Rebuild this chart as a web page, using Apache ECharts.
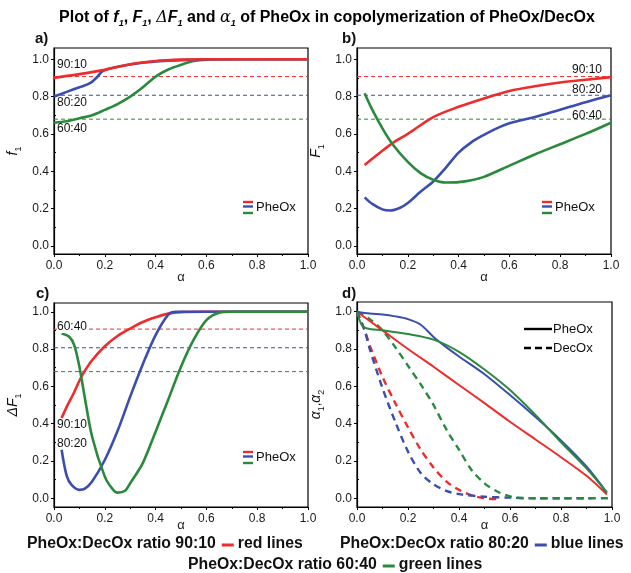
<!DOCTYPE html>
<html><head><meta charset="utf-8">
<script src="https://cdn.jsdelivr.net/npm/echarts@6/dist/echarts.min.js"></script>
<style>html,body{margin:0;padding:0;background:#fff}#c{width:631px;height:573px}</style>
</head><body><div id="c"></div>
<script>
// ---------- data ----------
const xTicks = [0, 0.2, 0.4, 0.6, 0.8, 1.0];
const yTicks = [0, 0.2, 0.4, 0.6, 0.8, 1.0];
const yMinorTicks = [0.1, 0.3, 0.5, 0.7, 0.9];
const refLevels = [0.907, 0.807, 0.679]; // 90:10, 80:20, 60:40 feed fractions
const ratioNames = ['90:10', '80:20', '60:40'];

// panel a: f1 vs alpha
const aRedX = [0, 0.1, 0.2, 0.3, 0.4, 0.5, 0.6, 0.7, 0.8, 0.9, 1.0];
const aRedY = [0.90, 0.92, 0.943, 0.973, 0.99, 0.998, 1.0, 1.0, 1.0, 1.0, 1.0];
const aBlueX = [0, 0.05, 0.1, 0.14, 0.17, 0.19, 0.22, 0.3, 0.4, 0.5, 0.6, 0.7, 0.8, 0.9, 1.0];
const aBlueY = [0.80, 0.825, 0.85, 0.87, 0.905, 0.935, 0.95, 0.972, 0.988, 0.995, 1.0, 1.0, 1.0, 1.0, 1.0];
const aGreenX = [0, 0.05, 0.1, 0.15, 0.2, 0.25, 0.3, 0.35, 0.4, 0.45, 0.5, 0.55, 0.6, 0.7, 0.8, 0.9, 1.0];
const aGreenY = [0.66, 0.668, 0.684, 0.70, 0.729, 0.76, 0.80, 0.85, 0.907, 0.945, 0.97, 0.99, 0.998, 1.0, 1.0, 1.0, 1.0];

// panel b: F1 vs alpha
const bRedX = [0.03, 0.1, 0.15, 0.2, 0.3, 0.4, 0.5, 0.6, 0.7, 0.8, 0.9, 1.0];
const bRedY = [0.434, 0.51, 0.56, 0.60, 0.69, 0.745, 0.79, 0.83, 0.855, 0.875, 0.89, 0.904];
const bBlueX = [0.03, 0.06, 0.1, 0.13, 0.17, 0.2, 0.25, 0.3, 0.35, 0.4, 0.45, 0.5, 0.55, 0.6, 0.65, 0.7, 0.8, 0.9, 1.0];
const bBlueY = [0.26, 0.225, 0.196, 0.19, 0.205, 0.23, 0.29, 0.345, 0.42, 0.50, 0.555, 0.595, 0.63, 0.657, 0.675, 0.69, 0.73, 0.77, 0.807];
const bGreenX = [0.03, 0.06, 0.1, 0.14, 0.2, 0.25, 0.3, 0.35, 0.4, 0.45, 0.5, 0.6, 0.7, 0.8, 0.9, 1.0];
const bGreenY = [0.818, 0.73, 0.63, 0.545, 0.45, 0.39, 0.355, 0.34, 0.342, 0.352, 0.37, 0.43, 0.49, 0.545, 0.60, 0.66];

// panel c: dF1 vs alpha
const cRedX = [0.03, 0.05, 0.08, 0.1, 0.12, 0.15, 0.2, 0.25, 0.3, 0.35, 0.4, 0.45, 0.5, 0.6, 0.7, 0.8, 0.9, 1.0];
const cRedY = [0.43, 0.49, 0.57, 0.63, 0.68, 0.74, 0.815, 0.87, 0.91, 0.945, 0.97, 0.99, 0.998, 1.0, 1.0, 1.0, 1.0, 1.0];
const cBlueX = [0.03, 0.05, 0.07, 0.1, 0.12, 0.15, 0.2, 0.25, 0.3, 0.35, 0.4, 0.45, 0.48, 0.52, 0.6, 0.7, 0.8, 0.9, 1.0];
const cBlueY = [0.26, 0.12, 0.07, 0.045, 0.05, 0.09, 0.205, 0.36, 0.545, 0.72, 0.875, 0.985, 1.0, 1.0, 1.0, 1.0, 1.0, 1.0, 1.0];
const cGreenX = [0.03, 0.06, 0.08, 0.1, 0.12, 0.15, 0.2, 0.23, 0.25, 0.28, 0.3, 0.35, 0.4, 0.45, 0.5, 0.55, 0.6, 0.65, 0.7, 0.8, 0.9, 1.0];
const cGreenY = [0.884, 0.866, 0.82, 0.705, 0.55, 0.33, 0.116, 0.05, 0.03, 0.04, 0.08, 0.19, 0.357, 0.53, 0.705, 0.85, 0.955, 0.995, 1.0, 1.0, 1.0, 1.0];

// panel d: alpha1 (PheOx, solid) and alpha2 (DecOx, dashed) vs alpha
const dRedX = [0, 0.1, 0.2, 0.3, 0.4, 0.5, 0.6, 0.7, 0.8, 0.9, 0.98];
const dRedY = [1.0, 0.9, 0.80, 0.705, 0.607, 0.51, 0.41, 0.315, 0.22, 0.12, 0.02];
const dBlueX = [0, 0.05, 0.1, 0.15, 0.2, 0.25, 0.3, 0.35, 0.4, 0.5, 0.6, 0.7, 0.8, 0.9, 0.98];
const dBlueY = [1.0, 0.99, 0.985, 0.975, 0.96, 0.93, 0.865, 0.81, 0.76, 0.665, 0.553, 0.435, 0.31, 0.17, 0.03];
const dGreenX = [0, 0.01, 0.02, 0.04, 0.1, 0.2, 0.3, 0.4, 0.5, 0.6, 0.7, 0.8, 0.9, 0.98];
const dGreenY = [1.0, 0.955, 0.925, 0.91, 0.90, 0.88, 0.85, 0.785, 0.69, 0.58, 0.446, 0.30, 0.16, 0.03];
const dRedDX = [0, 0.03, 0.05, 0.1, 0.15, 0.2, 0.25, 0.3, 0.35, 0.4, 0.45, 0.5, 0.55];
const dRedDY = [1.0, 0.9, 0.82, 0.65, 0.51, 0.38, 0.26, 0.165, 0.09, 0.045, 0.015, 0.0, -0.005];
const dBlueDX = [0, 0.03, 0.05, 0.1, 0.15, 0.2, 0.25, 0.3, 0.35, 0.4, 0.5, 0.6, 0.7, 0.8, 0.92];
const dBlueDY = [1.0, 0.9, 0.8, 0.59, 0.41, 0.25, 0.135, 0.075, 0.04, 0.022, 0.008, 0.003, 0.0, 0.0, 0.0];
const dGreenDX = [0, 0.05, 0.1, 0.15, 0.2, 0.25, 0.3, 0.35, 0.4, 0.45, 0.5, 0.55, 0.6, 0.65, 0.7, 0.8, 0.9, 1.0];
const dGreenDY = [1.0, 0.96, 0.9, 0.81, 0.71, 0.61, 0.5, 0.37, 0.26, 0.15, 0.08, 0.036, 0.01, 0.0, 0.0, 0.0, 0.0, 0.0];

// ---------- chart ----------
const RED = '#ee2c2c', BLUE = '#3b4eb0', GREEN = '#2a8a3b';
const COLORS = [RED, BLUE, GREEN];
const FONT = '"Liberation Sans", Arial, Helvetica, sans-serif';
const chart = echarts.init(document.getElementById('c'), null, {renderer: 'canvas'});

const grids = [
  {left: 54, top: 48, width: 254, height: 206},
  {left: 357, top: 48, width: 254, height: 206},
  {left: 54, top: 303, width: 254, height: 204},
  {left: 357, top: 302, width: 255, height: 205}
];
const yRanges = [[-0.043, 1.06], [-0.043, 1.06], [-0.047, 1.047], [-0.047, 1.052]];
const xNameGaps = [17, 17, 12, 12];
const yNames = [
  '{i|f}{s|1}',
  '{i|F}{s|1}',
  '{i|ΔF}{s|1}',
  '{i|α}{s|1}{n|,}{i|α}{s|2}'
];
const nameRich = {
  i: {fontStyle: 'italic', fontSize: 14, fontFamily: FONT, color: '#111'},
  s: {fontSize: 9, fontFamily: FONT, color: '#111', verticalAlign: 'bottom', padding: [0, 0, -3, 0]},
  n: {fontSize: 13, fontFamily: FONT, color: '#111'}
};
const fmt = v => v.toFixed(1);

const xAxes = [], yAxes = [], series = [];
grids.forEach((g, i) => {
  xAxes.push({
    gridIndex: i, type: 'value', min: 0, max: 1, interval: 0.2,
    name: 'α', nameLocation: 'middle', nameGap: xNameGaps[i], nameMoveOverlap: false,
    nameTextStyle: {fontSize: 13, color: '#222', fontFamily: FONT},
    axisLine: {show: true, onZero: false, lineStyle: {color: '#000', width: 1.2}},
    axisTick: {show: true, length: 3, lineStyle: {color: '#000'}},
    minorTick: {show: true, splitNumber: 2, length: 2, lineStyle: {color: '#000'}},
    splitLine: {show: false}, minorSplitLine: {show: false},
    axisLabel: {fontSize: 12, color: '#1a1a1a', margin: 6, fontFamily: FONT, formatter: fmt,
      customValues: xTicks, showMinLabel: true, showMaxLabel: true}
  });
  yAxes.push({
    gridIndex: i, type: 'value', min: yRanges[i][0], max: yRanges[i][1],
    name: yNames[i], nameLocation: 'middle', nameGap: 34, nameRotate: 90, nameMoveOverlap: false,
    nameTextStyle: {rich: nameRich},
    axisLine: {show: true, onZero: false, lineStyle: {color: '#000', width: 1.2}},
    axisTick: {show: true, length: 3, customValues: yTicks, lineStyle: {color: '#000'}},
    splitLine: {show: false},
    axisLabel: {fontSize: 12, color: '#1a1a1a', margin: 5, fontFamily: FONT, formatter: fmt, customValues: yTicks}
  });
  yAxes.push({
    gridIndex: i, type: 'value', min: yRanges[i][0], max: yRanges[i][1],
    axisLine: {show: false}, splitLine: {show: false}, axisLabel: {show: false},
    axisTick: {show: true, length: 2, customValues: yMinorTicks, lineStyle: {color: '#000'}}
  });
});

function mk(gi, xs, ys, color, width, dash, z) {
  return {
    type: 'line', xAxisIndex: gi, yAxisIndex: gi * 2,
    data: xs.map((x, k) => [x, ys[k]]),
    showSymbol: false, symbol: 'none', smooth: 0.3,
    lineStyle: {color: color, width: width, type: dash || 'solid', cap: 'butt', join: 'round'},
    z: z || 3, silent: true, animation: false
  };
}
// reference (feed) levels in panels a, b, c
[0, 1, 2].forEach(gi => {
  refLevels.forEach((lv, k) => {
    series.push(Object.assign(mk(gi, [0, 1], [lv, lv], COLORS[k], 1, [4, 3], 2), {smooth: false}));
  });
});
series.push(mk(0, aGreenX, aGreenY, GREEN, 2.6));
series.push(mk(0, aBlueX, aBlueY, BLUE, 2.6));
series.push(mk(0, aRedX, aRedY, RED, 2.6));
series.push(mk(1, bRedX, bRedY, RED, 2.6));
series.push(mk(1, bBlueX, bBlueY, BLUE, 2.6));
series.push(mk(1, bGreenX, bGreenY, GREEN, 2.6));
series.push(mk(2, cRedX, cRedY, RED, 2.6));
series.push(mk(2, cBlueX, cBlueY, BLUE, 2.6));
series.push(mk(2, cGreenX, cGreenY, GREEN, 2.6));
series.push(mk(3, dRedDX, dRedDY, RED, 2.4, [7, 5]));
series.push(mk(3, dBlueDX, dBlueDY, BLUE, 2.4, [7, 5]));
series.push(mk(3, dGreenDX, dGreenDY, GREEN, 2.4, [7, 5]));
series.push(mk(3, dRedX, dRedY, RED, 2));
series.push(mk(3, dBlueX, dBlueY, BLUE, 2));
series.push(mk(3, dGreenX, dGreenY, GREEN, 2));

// ---------- annotation graphics ----------
function txt(x, y, text, size, opts) {
  opts = opts || {};
  return {
    type: 'text', z: 100, silent: true,
    style: Object.assign({
      x: x, y: y, text: text, fontSize: size, fontFamily: FONT,
      fontWeight: opts.bold ? 'bold' : 'normal', fill: opts.fill || '#111',
      textAlign: opts.align || 'left', textVerticalAlign: 'middle',
      align: opts.align || 'left', verticalAlign: 'middle'
    }, opts.style || {})
  };
}
function dash(x, y, w, color, h) {
  return {type: 'rect', z: 100, silent: true, shape: {x: x, y: y - (h || 3) / 2, width: w, height: h || 3}, style: {fill: color}};
}
function pheLegend(x, yR, yB, yG, ty) {
  return [dash(x, yR, 10, RED, 2.4), dash(x, yB, 10, BLUE, 2.4), dash(x, yG, 10, GREEN, 2.4), txt(x + 13, ty, 'PheOx', 13)];
}
const measureCtx = document.createElement('canvas').getContext('2d');
function textWidth(t, size, bold) {
  measureCtx.font = (bold ? 'bold ' : '') + size + 'px ' + FONT;
  return measureCtx.measureText(t).width;
}
const LEG_SIZE = 15.8;
function ratioLegend(x, y, label, color, tail) {
  const w1 = textWidth(label, LEG_SIZE, true);
  const dx = x + w1 + 6;
  return [txt(x, y, label, LEG_SIZE, {bold: true}), dash(dx, y + 1, 12, color, 3), txt(dx + 16, y, tail, LEG_SIZE, {bold: true})];
}

const graphics = [];
const titleRich = {
  b: {fontSize: 16, fontWeight: 'bold', fontFamily: FONT, color: '#111', lineHeight: 20},
  bi: {fontSize: 16, fontWeight: 'bold', fontStyle: 'italic', fontFamily: FONT, color: '#111', lineHeight: 20},
  g: {fontSize: 16, fontStyle: 'italic', fontFamily: '"DejaVu Serif", serif', color: '#111', lineHeight: 20},
  s: {fontSize: 9, fontWeight: 'bold', fontStyle: 'italic', fontFamily: FONT, color: '#111', verticalAlign: 'bottom', lineHeight: 20}
};
graphics.push({
  type: 'text', z: 100, silent: true,
  style: {
    x: 327, y: 18, textAlign: 'center', textVerticalAlign: 'middle', align: 'center', verticalAlign: 'middle',
    text: '{b|Plot of }{bi|f}{s|1}{b|, }{bi|F}{s|1}{b|, }{g|Δ}{bi|F}{s|1}{b| and }{g|α}{s|1}{b| of PheOx in copolymerization of PheOx/DecOx}',
    rich: titleRich
  }
});
// panel letters
graphics.push(txt(35, 39, 'a)', 15, {bold: true}));
graphics.push(txt(342, 39, 'b)', 15, {bold: true}));
graphics.push(txt(36, 294, 'c)', 15, {bold: true}));
graphics.push(txt(342, 294, 'd)', 15, {bold: true}));
// ratio labels
graphics.push(txt(57, 64.5, ratioNames[0], 12));
graphics.push(txt(57, 102.5, ratioNames[1], 12));
graphics.push(txt(57, 129, ratioNames[2], 12));
graphics.push(txt(572, 69.5, ratioNames[0], 12));
graphics.push(txt(572, 89.5, ratioNames[1], 12));
graphics.push(txt(572, 116, ratioNames[2], 12));
graphics.push(txt(57, 327, ratioNames[2], 12, {style: {backgroundColor: '#fff', padding: [0, 1, 0, 0]}}));
graphics.push(txt(57, 425, ratioNames[0], 12));
graphics.push(txt(57, 444, ratioNames[1], 12));
// in-panel legends
graphics.push(...pheLegend(243, 202, 206.5, 213, 207.5));
graphics.push(...pheLegend(542, 202, 206.5, 213, 207.5));
graphics.push(...pheLegend(243, 452, 456.5, 463, 457.5));
graphics.push({type: 'line', z: 100, silent: true, shape: {x1: 524, y1: 329, x2: 552, y2: 329}, style: {stroke: '#000', lineWidth: 2.4}});
graphics.push(txt(553, 329, 'PheOx', 13));
graphics.push({type: 'line', z: 100, silent: true, shape: {x1: 524, y1: 348, x2: 552, y2: 348}, style: {stroke: '#000', lineWidth: 2.4, lineDash: [7, 4]}});
graphics.push(txt(553, 348, 'DecOx', 13));
// bottom legend
graphics.push(...ratioLegend(27, 544, 'PheOx:DecOx ratio 90:10', RED, 'red lines'));
graphics.push(...ratioLegend(340, 544, 'PheOx:DecOx ratio 80:20', BLUE, 'blue lines'));
graphics.push(...ratioLegend(188, 565, 'PheOx:DecOx ratio 60:40', GREEN, 'green lines'));

chart.setOption({
  animation: false,
  backgroundColor: '#fff',
  grid: grids.map(g => Object.assign({show: true, borderColor: '#000', borderWidth: 1.2, backgroundColor: 'transparent', containLabel: false}, g)),
  xAxis: xAxes,
  yAxis: yAxes,
  series: series,
  graphic: {elements: graphics}
});
</script></body></html>
